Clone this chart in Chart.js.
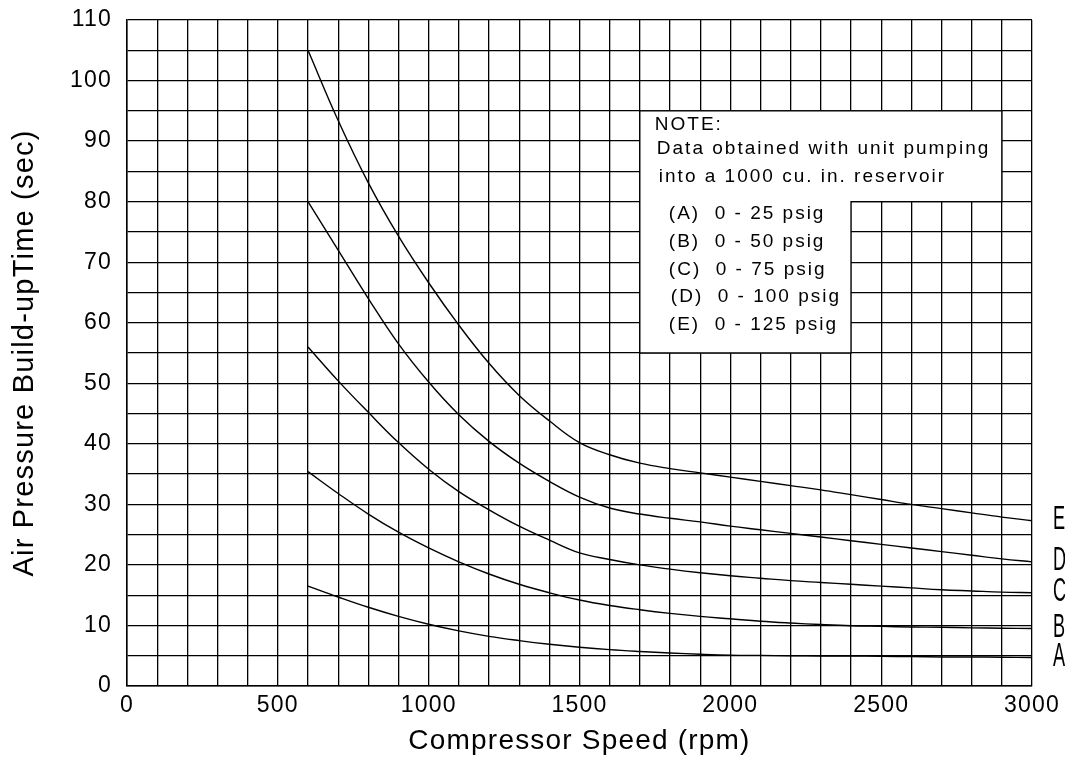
<!DOCTYPE html>
<html>
<head>
<meta charset="utf-8">
<title>Air Pressure Build-up Time</title>
<script src="https://cdn.jsdelivr.net/npm/chart.js@4.4.1/dist/chart.umd.min.js"></script>
<style>
  html, body { margin: 0; padding: 0; background: #fff; }
  #wrap { width: 1065px; height: 772px; }
</style>
</head>
<body>
<div id="wrap"><canvas id="chart"></canvas></div>
<script>
// === Данные ===
const rpm = [600, 700, 800, 900, 1000, 1100, 1200, 1300, 1400, 1500, 1600, 1700, 1800,
  1900, 2000, 2100, 2200, 2300, 2400, 2500, 2600, 2700, 2800, 2900, 3000];

const curveA = [16.5, 14.7, 13.0, 11.5, 10.2, 9.1, 8.2, 7.5, 6.9, 6.4, 6.0, 5.7, 5.45,
  5.25, 5.1, 5.05, 5.0, 4.95, 4.95, 4.9, 4.85, 4.8, 4.8, 4.75, 4.7];
const curveB = [35.4, 31.8, 28.4, 25.4, 22.8, 20.5, 18.5, 16.8, 15.4, 14.2, 13.3, 12.6, 12.0,
  11.5, 11.1, 10.7, 10.4, 10.15, 9.95, 9.85, 9.75, 9.7, 9.6, 9.55, 9.5];
const curveC = [56, 50.4, 45.2, 40.2, 35.8, 32.1, 29.1, 26.4, 24.1, 22.0, 20.9, 20.0, 19.3,
  18.7, 18.2, 17.8, 17.4, 17.1, 16.8, 16.5, 16.2, 15.9, 15.7, 15.5, 15.4];
const curveD = [80, 72, 64, 56.5, 50.2, 44.8, 40.4, 36.8, 33.8, 31.2, 29.4, 28.4, 27.7,
  27.1, 26.4, 25.8, 25.2, 24.6, 24.0, 23.4, 22.8, 22.2, 21.6, 21.0, 20.5];
const curveE = [105, 93.4, 83.1, 74.3, 66.6, 59.6, 53.3, 48.0, 43.8, 40.2, 38.2, 36.8, 35.9,
  35.2, 34.5, 33.8, 33.1, 32.4, 31.6, 30.8, 30.0, 29.3, 28.6, 27.9, 27.3];

const curveNames = ['A', 'B', 'C', 'D', 'E'];
const curves = [curveA, curveB, curveC, curveD, curveE];

const xTickLabels = [0, 500, 1000, 1500, 2000, 2500, 3000];
const yTickLabels = [0, 10, 20, 30, 40, 50, 60, 70, 80, 90, 100, 110];

const noteText = [
  'NOTE:',
  'Data obtained with unit pumping',
  'into a 1000 cu. in. reservoir',
  '(A)  0 - 25 psig',
  '(B)  0 - 50 psig',
  '(C)  0 - 75 psig',
  '(D)  0 - 100 psig',
  '(E)  0 - 125 psig'
];

// Рамка примечания (в единицах осей) и отступы строк
const noteBox = { left: 1700, right: 2900, step: 2400, top: 95, mid: 80, bottom: 55 };
const noteOffsets = [[15, 19], [17, 43], [19, 71], [29, 108], [29, 136.5], [29, 164], [31, 191.5], [29, 219]];

const FONT = '"Liberation Sans", Arial, sans-serif';

// === Плагин: рамка примечания и буквы кривых ===
const extras = {
  id: 'extras',
  beforeDraw(chart) {
    chart.ctx.letterSpacing = '1.2px';
  },
  beforeDatasetsDraw(chart) {
    const { ctx, scales: { x, y } } = chart;
    const l = x.getPixelForValue(noteBox.left);
    const r = x.getPixelForValue(noteBox.right);
    const s = x.getPixelForValue(noteBox.step);
    const t = y.getPixelForValue(noteBox.top);
    const m = y.getPixelForValue(noteBox.mid);
    const b = y.getPixelForValue(noteBox.bottom);
    ctx.save();
    ctx.beginPath();
    ctx.moveTo(l, t);
    ctx.lineTo(r, t);
    ctx.lineTo(r, m);
    ctx.lineTo(s, m);
    ctx.lineTo(s, b);
    ctx.lineTo(l, b);
    ctx.closePath();
    ctx.fillStyle = '#fff';
    ctx.fill();
    ctx.strokeStyle = '#000';
    ctx.lineWidth = 1.3;
    ctx.stroke();
    ctx.fillStyle = '#000';
    ctx.font = '19px ' + FONT;
    ctx.letterSpacing = '2px';
    ctx.textAlign = 'left';
    ctx.textBaseline = 'alphabetic';
    noteText.forEach((line, i) => {
      ctx.fillText(line, l + noteOffsets[i][0], t + noteOffsets[i][1]);
    });
    ctx.restore();
  },
  afterDatasetsDraw(chart) {
    // буквы кривых справа, сжатые по ширине
    const { ctx, chartArea, scales: { y } } = chart;
    ctx.save();
    ctx.fillStyle = '#000';
    ctx.font = '33px ' + FONT;
    ctx.letterSpacing = '0px';
    ctx.textAlign = 'left';
    ctx.textBaseline = 'middle';
    chart.data.datasets.forEach(ds => {
      const last = ds.data[ds.data.length - 1];
      ctx.save();
      ctx.translate(chartArea.right + 21, y.getPixelForValue(last.y) - 1);
      ctx.scale(0.55, 1);
      ctx.fillText(ds.label, 0, 0);
      ctx.restore();
    });
    ctx.restore();
  }
};

new Chart(document.getElementById('chart'), {
  type: 'line',
  data: {
    datasets: curves.map((vals, i) => ({
      label: curveNames[i],
      data: rpm.map((r, j) => ({ x: r, y: vals[j] })),
      borderColor: '#000',
      borderWidth: 1.4,
      pointRadius: 0,
      fill: false,
      tension: 0.4
    }))
  },
  options: {
    responsive: true,
    maintainAspectRatio: false,
    animation: false,
    layout: { padding: { top: 20, right: 33, left: 0, bottom: 0 } },
    plugins: {
      legend: { display: false },
      tooltip: { enabled: false }
    },
    scales: {
      x: {
        type: 'linear',
        min: 0,
        max: 3000,
        afterFit: scale => {
          scale.height = 86;
          scale.paddingLeft = 0;
          scale.paddingRight = 0;
        },
        border: { display: true, color: '#000', width: 1.5 },
        grid: { color: '#000', lineWidth: 1.3, drawTicks: false },
        ticks: {
          stepSize: 100,
          autoSkip: false,
          maxRotation: 0,
          padding: 6,
          color: '#000',
          font: { family: FONT, size: 23 },
          callback: v => xTickLabels.includes(v) ? String(v) : ''
        },
        title: {
          display: true,
          text: 'Compressor Speed (rpm)',
          color: '#000',
          font: { family: FONT, size: 28 },
          padding: { top: 0, bottom: 14 }
        }
      },
      y: {
        min: 0,
        max: 110,
        afterFit: scale => {
          scale.width = 127;
          scale.paddingTop = 0;
          scale.paddingBottom = 0;
        },
        border: { display: true, color: '#000', width: 1.5 },
        grid: { color: '#000', lineWidth: 1.3, drawTicks: false },
        ticks: {
          stepSize: 5,
          autoSkip: false,
          padding: 15,
          color: '#000',
          font: { family: FONT, size: 23 },
          callback: v => yTickLabels.includes(v) ? String(v) : ''
        },
        title: {
          display: true,
          text: 'Air Pressure Build-upTime (sec)',
          color: '#000',
          font: { family: FONT, size: 29 },
          padding: { top: 8, bottom: 0 }
        }
      }
    }
  },
  plugins: [extras]
});
</script>
</body>
</html>
